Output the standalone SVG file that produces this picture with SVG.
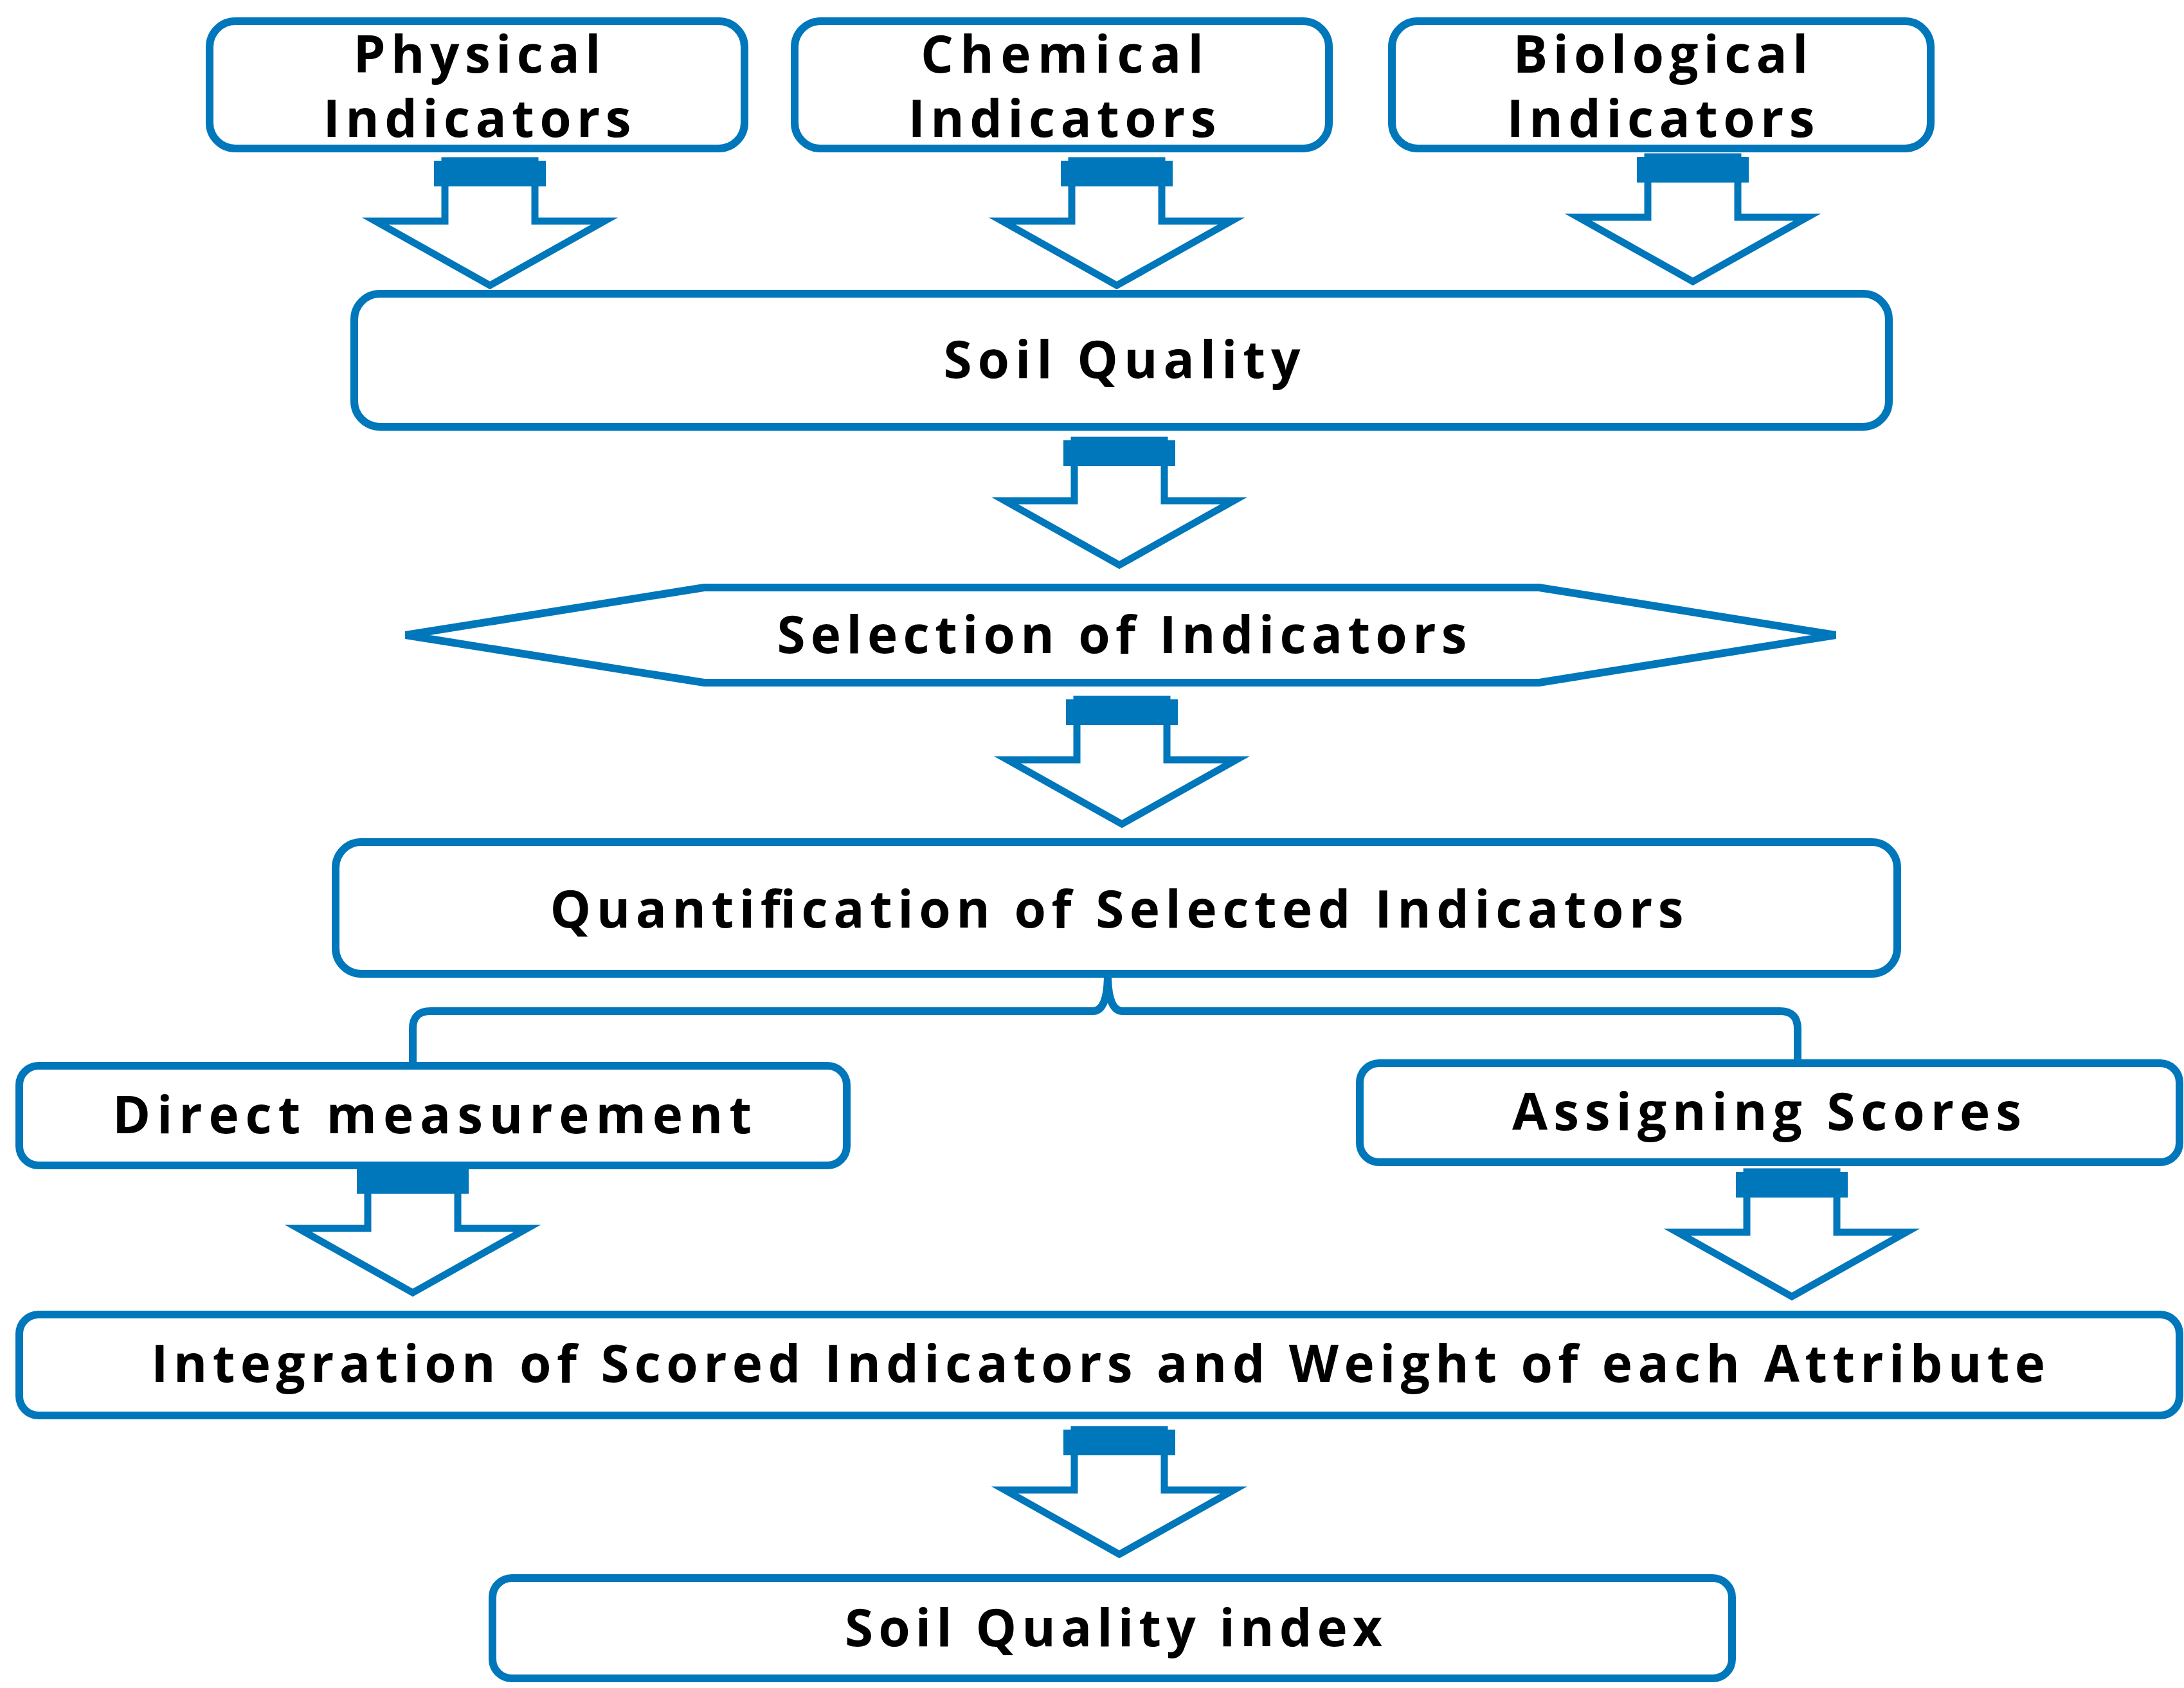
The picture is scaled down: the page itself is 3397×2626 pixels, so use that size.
<svg xmlns="http://www.w3.org/2000/svg" xmlns:xlink="http://www.w3.org/1999/xlink" width="3397" height="2626" viewBox="0 0 3397 2626">
<style>
.b{fill:#fff;stroke:#0077BB;stroke-width:12}
.t{font-family:"Open Sans","Liberation Sans",sans-serif;font-weight:bold;font-size:80px;fill:#000;text-anchor:middle}
.ar{fill:#fff;stroke:#0077BB;stroke-width:11}
.bar{fill:#0077BB}
</style>
<defs>
<g id="arr">
<polygon class="ar" points="-70,0 70,0 70,94 178,94 0,194 -178,94 -70,94"/>
<rect class="bar" x="-87" y="0" width="174" height="40"/>
</g>
</defs>
<rect width="3397" height="2626" fill="#fff"/>
<g id="connectors">
<use xlink:href="#arr" x="762" y="250"/>
<use xlink:href="#arr" x="1737" y="250"/>
<use xlink:href="#arr" x="2633" y="244"/>
<use xlink:href="#arr" x="1741" y="685"/>
<use xlink:href="#arr" x="1745" y="1088"/>
<use xlink:href="#arr" x="642" y="1817"/>
<use xlink:href="#arr" x="2787" y="1823"/>
<use xlink:href="#arr" x="1741" y="2224"/>
<path d="M642,1658 L642,1600 Q642,1573 670,1573 L1700,1573 Q1723,1573 1723,1515 Q1723,1573 1746,1573 L2768,1573 Q2796,1573 2796,1600 L2796,1654" fill="none" stroke="#0077BB" stroke-width="12"/>
</g>
<g id="physical"><rect class="b" x="326" y="33" width="832" height="198" rx="40"/>
<text class="t" x="742" y="113" textLength="385">Physical</text><text class="t" x="742" y="213" textLength="479">Indicators</text></g>
<g id="chemical"><rect class="b" x="1236" y="33" width="831" height="198" rx="40"/>
<text class="t" x="1652" y="113" textLength="440">Chemical</text><text class="t" x="1652" y="213" textLength="479">Indicators</text></g>
<g id="biological"><rect class="b" x="2165" y="33" width="838" height="198" rx="40"/>
<text class="t" x="2583" y="113" textLength="459">Biological</text><text class="t" x="2583" y="213" textLength="479">Indicators</text></g>
<g id="soilquality"><rect class="b" x="551" y="457" width="2387" height="207" rx="40"/>
<text class="t" x="1745" y="588" textLength="555">Soil Quality</text></g>
<g id="selection"><polygon class="b" points="631,988 1095,914 2394,914 2855,988 2394,1062 1095,1062"/>
<text class="t" x="1745" y="1016" textLength="1073">Selection of Indicators</text></g>
<g id="quantification"><rect class="b" x="522" y="1310" width="2429" height="205" rx="40"/>
<text class="t" x="1737" y="1443" textLength="1763">Quantification of Selected Indicators</text></g>
<g id="direct"><rect class="b" x="30" y="1658" width="1287" height="155" rx="30"/>
<text class="t" x="672" y="1763" textLength="994">Direct measurement</text></g>
<g id="assigning"><rect class="b" x="2115" y="1654" width="3275" height="154" rx="30" style="width:1275px"/>
<text class="t" x="2748" y="1758" textLength="792">Assigning Scores</text></g>
<g id="integration"><rect class="b" x="30" y="2045" width="3360" height="157" rx="30"/>
<text class="t" x="1708" y="2150" textLength="2946">Integration of Scored Indicators and Weight of each Attribute</text></g>
<g id="sqi"><rect class="b" x="766" y="2455" width="1928" height="156" rx="30"/>
<text class="t" x="1732" y="2561" textLength="836">Soil Quality index</text></g>
</svg>
